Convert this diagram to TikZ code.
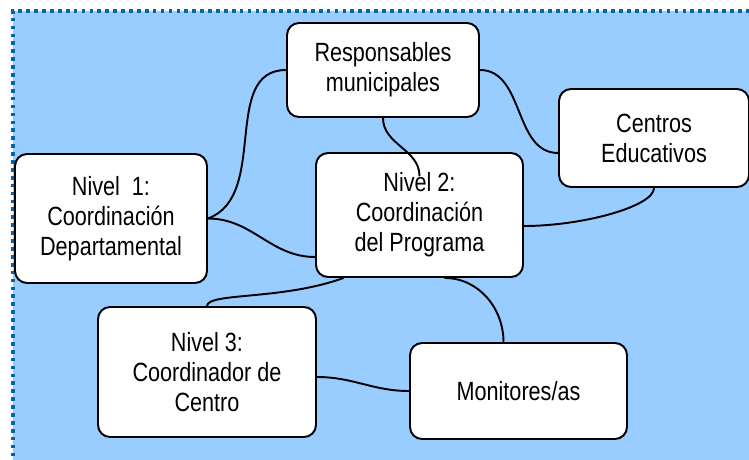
\documentclass[tikz,border=0pt]{standalone}
\usepackage{fontspec}
\setmainfont{Liberation Sans}[FakeStretch=0.82]
\usetikzlibrary{calc}
\definecolor{panelblue}{RGB}{153,204,255}
\definecolor{frameblue}{RGB}{0,102,170}

\begin{document}
\begin{tikzpicture}[x=0.02cm, y=0.02cm,
        box/.style={draw, fill=white, rounded corners=0.24cm, line width=1.1pt, align=center, inner sep=0pt, font=\fontsize{15}{17}\selectfont},
        link/.style={line width=1.1pt}]
                \useasboundingbox (0,0) rectangle (749,-459);
                \clip (0,0) rectangle (749,-459);
                \fill [panelblue] (13,-11) rectangle (770,-480);
                \draw [frameblue, line width=2.1pt, dash pattern=on 2.1pt off 2.4pt] (13,-480) -- (13,-11) -- (770,-11);

                \node [box, minimum width=3.84cm, minimum height=1.88cm] (resp) at (383, -70) {Responsables\\municipales};
                \node [box, minimum width=3.8cm, minimum height=1.96cm] (cent) at (654, -138) {Centros\\Educativos};
                \node [box, minimum width=3.84cm, minimum height=2.58cm] (n1) at (111, -218.5) {Nivel\ \ 1:\\Coordinación\\Departamental};
                \node [box, minimum width=4.14cm, minimum height=2.48cm] (n2) at (419.5, -215) {Nivel 2:\\Coordinación\\del Programa};
                \node [box, minimum width=4.36cm, minimum height=2.6cm] (n3) at (207, -372) {Nivel 3:\\Coordinador de\\Centro};
                \node [box, minimum width=4.34cm, minimum height=1.92cm] (mon) at (518.5, -391) {Monitores/as};

                \draw [link] (resp.west) to [out = 180, in = 20] (n1.east);
                \draw [link] (n1.east) to [out = 0, in = 180] ($(n2.west)+(0,-42)$);
                \draw [link] (resp.east) to [out = 0, in = 180] ($(cent.west)+(0,-15)$);
                \draw [link] (cent.south) to [out = -90, in = 0, out looseness = 0.35, in looseness = 1.1] ($(n2.east)+(0,-11)$);
                \draw [link] ($(n2.south)+(-76,0)$) to [out = 200, in = 90, out looseness = 1.2, in looseness = 0.25] (n3.north);
                \draw [link] ($(n2.south)+(25,0)$) to [out = 0, in = 90] ($(mon.north)+(-15,0)$);
                \draw [link] ($(n3.east)+(0,-5)$) to [out = 0, in = 180] (mon.west);
                \draw [link] (resp.south) to [out = -90, in = 90] ($(n2.north)+(0,-24)$);
            \end{tikzpicture}
\end{document}
